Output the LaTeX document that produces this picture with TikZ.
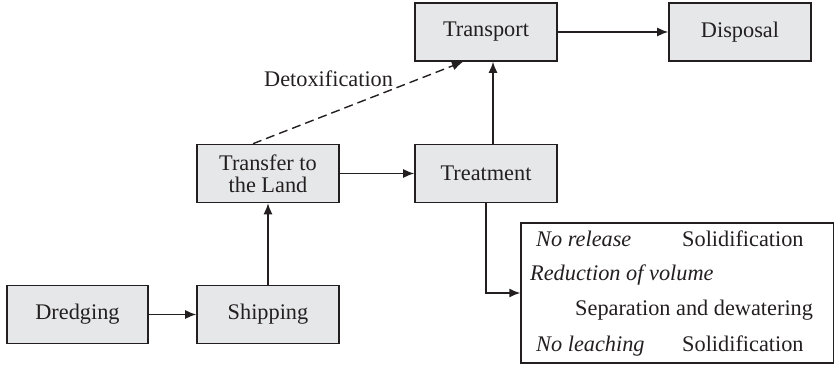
\documentclass[tikz,border=0pt]{standalone}
\usepackage{fontspec}
\setmainfont{Liberation Serif}
\usetikzlibrary{arrows.meta}
\definecolor{boxfill}{HTML}{E6E7E8}
\definecolor{ink}{HTML}{231F20}
\begin{document}
\begin{tikzpicture}[x=1pt,y=1pt,
  font=\fontsize{22.3}{26}\selectfont,
  stage/.style={draw=ink,line width=1.6pt,fill=boxfill,text=ink,
    minimum width=142pt,minimum height=58pt,inner sep=0pt,align=center},
  flow/.style={draw=ink,line width=1.4pt,-{Latex[length=11pt,width=9pt]}},
  txt/.style={anchor=base west,inner sep=0pt,text=ink},
  emph/.style={txt,font=\fontsize{22.3}{26}\selectfont\itshape}]
\useasboundingbox (0,0) rectangle (834,366);
% process stages
\node[stage] (transport) at (486,334) {Transport};
\node[stage] (disposal)  at (740,334) {Disposal};
\node[stage] (treat)     at (486,192.5) {Treatment};
\node[stage] (land)      at (268,192.5) {Transfer to\\[-4pt]the Land};
\node[stage,minimum width=141pt] (dredge) at (77.5,51.5) {Dredging};
\node[stage] (ship)      at (268,51.5) {Shipping};
% treatment options
\node[draw=ink,line width=1.4pt,fill=white,minimum width=313pt,minimum height=140pt,inner sep=0pt]
  (opts) at (677.5,73) {};
\node[emph] (r1a) at (536,119) {No release};
\node[txt] (r1b) at (682,119) {Solidification};
\node[emph] (r2) at (530,85) {Reduction of volume};
\node[txt] (r3) at (575,50) {Separation and dewatering};
\node[emph] (r4a) at (536,14) {No leaching};
\node[txt] (r4b) at (682,14) {Solidification};
% connectors
\draw[flow] (dredge) -- (ship);
\draw[flow] (ship) -- (land);
\draw[flow] (land) -- (treat);
\draw[flow] ([xshift=7pt]treat.north) -- ([xshift=7pt]transport.south);
\draw[flow] (transport) -- (disposal);
\draw[flow] (treat.south) |- (opts.west);
\draw[flow,dashed,dash pattern=on 9pt off 5pt] ([xshift=-15pt]land.north) -- ([xshift=-23pt]transport.south);
\node[txt] (detox) at (264,279) {Detoxification};
\end{tikzpicture}
\end{document}
